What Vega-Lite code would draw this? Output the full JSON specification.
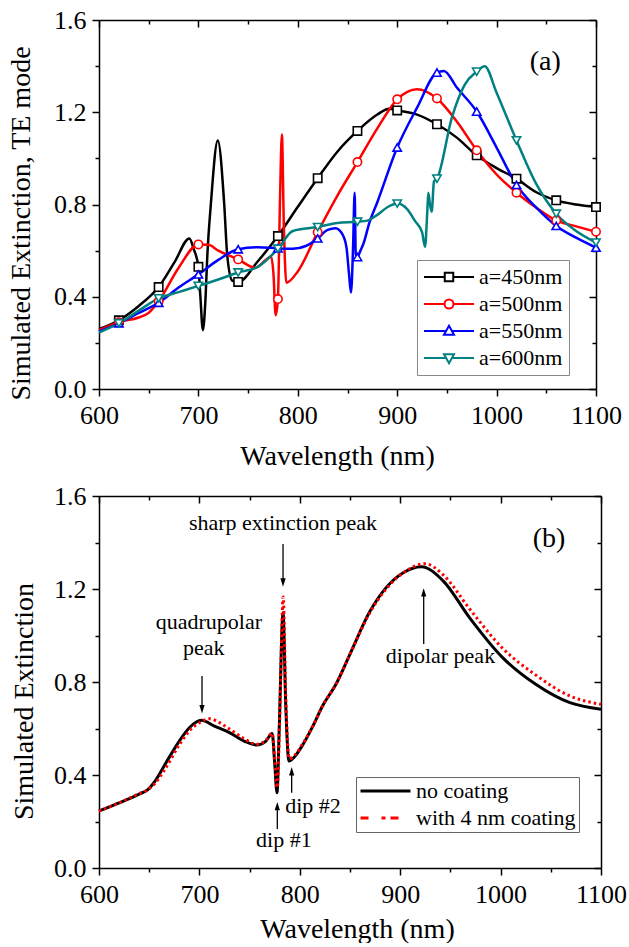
{
  "$schema": "https://vega.github.io/schema/vega-lite/v6.json",
  "padding": {"left": 7, "top": 7, "right": 5, "bottom": 0},
  "columns": 1,
  "align": "none",
  "spacing": 13,
  "background": "white",
  "config": {
    "font": "Liberation Serif",
    "view": {"stroke": null},
    "axis": {
      "labelFont": "Liberation Serif", "labelFontSize": 26, "labelColor": "black",
      "titleFont": "Liberation Serif", "titleFontSize": 28, "titleFontWeight": "normal", "titleColor": "black",
      "domainColor": "black", "domainWidth": 1.5, "tickColor": "black", "tickWidth": 1.5,
      "grid": false, "labelFlush": false, "labelOverlap": false, "labelPadding": 6
    },
    "legend": {"labelFont": "Liberation Serif", "labelColor": "black"}
  },
  "resolve": {
    "scale": {"color": "independent"},
    "legend": {"color": "independent"}
  },
  "concat": [
    {
      "width": 497,
      "height": 369,
      "data": {"values": [
        {"a": "a=450nm", "wl": 600, "ext": 0.26},
        {"a": "a=450nm", "wl": 620, "ext": 0.298},
        {"a": "a=450nm", "wl": 640, "ext": 0.36},
        {"a": "a=450nm", "wl": 660, "ext": 0.442},
        {"a": "a=450nm", "wl": 676, "ext": 0.55},
        {"a": "a=450nm", "wl": 691, "ext": 0.653},
        {"a": "a=450nm", "wl": 695, "ext": 0.61},
        {"a": "a=450nm", "wl": 700, "ext": 0.53},
        {"a": "a=450nm", "wl": 702, "ext": 0.4},
        {"a": "a=450nm", "wl": 704.5, "ext": 0.255},
        {"a": "a=450nm", "wl": 707, "ext": 0.38},
        {"a": "a=450nm", "wl": 709, "ext": 0.58},
        {"a": "a=450nm", "wl": 712.5, "ext": 0.8},
        {"a": "a=450nm", "wl": 719.5, "ext": 1.078},
        {"a": "a=450nm", "wl": 726, "ext": 0.8},
        {"a": "a=450nm", "wl": 729, "ext": 0.58},
        {"a": "a=450nm", "wl": 734, "ext": 0.47},
        {"a": "a=450nm", "wl": 740, "ext": 0.464},
        {"a": "a=450nm", "wl": 760, "ext": 0.555},
        {"a": "a=450nm", "wl": 780, "ext": 0.663},
        {"a": "a=450nm", "wl": 800, "ext": 0.79},
        {"a": "a=450nm", "wl": 820, "ext": 0.914},
        {"a": "a=450nm", "wl": 840, "ext": 1.03},
        {"a": "a=450nm", "wl": 860, "ext": 1.119},
        {"a": "a=450nm", "wl": 880, "ext": 1.19},
        {"a": "a=450nm", "wl": 892, "ext": 1.215},
        {"a": "a=450nm", "wl": 900, "ext": 1.208},
        {"a": "a=450nm", "wl": 920, "ext": 1.19},
        {"a": "a=450nm", "wl": 940, "ext": 1.148},
        {"a": "a=450nm", "wl": 960, "ext": 1.09},
        {"a": "a=450nm", "wl": 980, "ext": 1.013},
        {"a": "a=450nm", "wl": 1000, "ext": 0.958},
        {"a": "a=450nm", "wl": 1020, "ext": 0.912},
        {"a": "a=450nm", "wl": 1040, "ext": 0.853},
        {"a": "a=450nm", "wl": 1060, "ext": 0.818},
        {"a": "a=450nm", "wl": 1080, "ext": 0.8},
        {"a": "a=450nm", "wl": 1100, "ext": 0.789},

        {"a": "a=500nm", "wl": 600, "ext": 0.255},
        {"a": "a=500nm", "wl": 620, "ext": 0.29},
        {"a": "a=500nm", "wl": 640, "ext": 0.31},
        {"a": "a=500nm", "wl": 650, "ext": 0.33},
        {"a": "a=500nm", "wl": 660, "ext": 0.38},
        {"a": "a=500nm", "wl": 680, "ext": 0.525},
        {"a": "a=500nm", "wl": 700, "ext": 0.627},
        {"a": "a=500nm", "wl": 710, "ext": 0.625},
        {"a": "a=500nm", "wl": 720, "ext": 0.6},
        {"a": "a=500nm", "wl": 740, "ext": 0.562},
        {"a": "a=500nm", "wl": 757, "ext": 0.526},
        {"a": "a=500nm", "wl": 768, "ext": 0.56},
        {"a": "a=500nm", "wl": 773, "ext": 0.575},
        {"a": "a=500nm", "wl": 775.5, "ext": 0.5},
        {"a": "a=500nm", "wl": 777.7, "ext": 0.32},
        {"a": "a=500nm", "wl": 780, "ext": 0.39},
        {"a": "a=500nm", "wl": 782, "ext": 0.8},
        {"a": "a=500nm", "wl": 784, "ext": 1.104},
        {"a": "a=500nm", "wl": 786, "ext": 0.7},
        {"a": "a=500nm", "wl": 788.5, "ext": 0.461},
        {"a": "a=500nm", "wl": 800, "ext": 0.51},
        {"a": "a=500nm", "wl": 820, "ext": 0.68},
        {"a": "a=500nm", "wl": 840, "ext": 0.84},
        {"a": "a=500nm", "wl": 860, "ext": 0.984},
        {"a": "a=500nm", "wl": 880, "ext": 1.13},
        {"a": "a=500nm", "wl": 900, "ext": 1.256},
        {"a": "a=500nm", "wl": 920, "ext": 1.3},
        {"a": "a=500nm", "wl": 940, "ext": 1.26},
        {"a": "a=500nm", "wl": 960, "ext": 1.16},
        {"a": "a=500nm", "wl": 980, "ext": 1.035},
        {"a": "a=500nm", "wl": 1000, "ext": 0.93},
        {"a": "a=500nm", "wl": 1020, "ext": 0.851},
        {"a": "a=500nm", "wl": 1040, "ext": 0.786},
        {"a": "a=500nm", "wl": 1060, "ext": 0.731},
        {"a": "a=500nm", "wl": 1080, "ext": 0.705},
        {"a": "a=500nm", "wl": 1100, "ext": 0.682},

        {"a": "a=550nm", "wl": 600, "ext": 0.25},
        {"a": "a=550nm", "wl": 620, "ext": 0.285},
        {"a": "a=550nm", "wl": 640, "ext": 0.33},
        {"a": "a=550nm", "wl": 660, "ext": 0.374},
        {"a": "a=550nm", "wl": 680, "ext": 0.44},
        {"a": "a=550nm", "wl": 700, "ext": 0.497},
        {"a": "a=550nm", "wl": 720, "ext": 0.56},
        {"a": "a=550nm", "wl": 740, "ext": 0.606},
        {"a": "a=550nm", "wl": 760, "ext": 0.615},
        {"a": "a=550nm", "wl": 780, "ext": 0.61},
        {"a": "a=550nm", "wl": 795, "ext": 0.608},
        {"a": "a=550nm", "wl": 808, "ext": 0.62},
        {"a": "a=550nm", "wl": 820, "ext": 0.653},
        {"a": "a=550nm", "wl": 830, "ext": 0.69},
        {"a": "a=550nm", "wl": 838, "ext": 0.697},
        {"a": "a=550nm", "wl": 845, "ext": 0.67},
        {"a": "a=550nm", "wl": 849, "ext": 0.613},
        {"a": "a=550nm", "wl": 851.5, "ext": 0.5},
        {"a": "a=550nm", "wl": 853.5, "ext": 0.418},
        {"a": "a=550nm", "wl": 855.5, "ext": 0.6},
        {"a": "a=550nm", "wl": 857.2, "ext": 0.851},
        {"a": "a=550nm", "wl": 858.3, "ext": 0.584},
        {"a": "a=550nm", "wl": 860, "ext": 0.572},
        {"a": "a=550nm", "wl": 863, "ext": 0.6},
        {"a": "a=550nm", "wl": 866, "ext": 0.63},
        {"a": "a=550nm", "wl": 872, "ext": 0.72},
        {"a": "a=550nm", "wl": 880, "ext": 0.81},
        {"a": "a=550nm", "wl": 900, "ext": 1.047},
        {"a": "a=550nm", "wl": 920, "ext": 1.22},
        {"a": "a=550nm", "wl": 940, "ext": 1.372},
        {"a": "a=550nm", "wl": 947, "ext": 1.379},
        {"a": "a=550nm", "wl": 960, "ext": 1.307},
        {"a": "a=550nm", "wl": 980, "ext": 1.203},
        {"a": "a=550nm", "wl": 1000, "ext": 1.047},
        {"a": "a=550nm", "wl": 1020, "ext": 0.885},
        {"a": "a=550nm", "wl": 1040, "ext": 0.786},
        {"a": "a=550nm", "wl": 1060, "ext": 0.707},
        {"a": "a=550nm", "wl": 1080, "ext": 0.656},
        {"a": "a=550nm", "wl": 1100, "ext": 0.613},

        {"a": "a=600nm", "wl": 600, "ext": 0.245},
        {"a": "a=600nm", "wl": 620, "ext": 0.285},
        {"a": "a=600nm", "wl": 640, "ext": 0.34},
        {"a": "a=600nm", "wl": 660, "ext": 0.393},
        {"a": "a=600nm", "wl": 680, "ext": 0.42},
        {"a": "a=600nm", "wl": 700, "ext": 0.447},
        {"a": "a=600nm", "wl": 720, "ext": 0.475},
        {"a": "a=600nm", "wl": 740, "ext": 0.505},
        {"a": "a=600nm", "wl": 760, "ext": 0.53},
        {"a": "a=600nm", "wl": 776, "ext": 0.59},
        {"a": "a=600nm", "wl": 780, "ext": 0.608},
        {"a": "a=600nm", "wl": 795, "ext": 0.685},
        {"a": "a=600nm", "wl": 820, "ext": 0.702},
        {"a": "a=600nm", "wl": 840, "ext": 0.72},
        {"a": "a=600nm", "wl": 860, "ext": 0.725},
        {"a": "a=600nm", "wl": 870, "ext": 0.73},
        {"a": "a=600nm", "wl": 880, "ext": 0.755},
        {"a": "a=600nm", "wl": 890, "ext": 0.788},
        {"a": "a=600nm", "wl": 900, "ext": 0.804},
        {"a": "a=600nm", "wl": 910, "ext": 0.78},
        {"a": "a=600nm", "wl": 918, "ext": 0.728},
        {"a": "a=600nm", "wl": 925, "ext": 0.68},
        {"a": "a=600nm", "wl": 928, "ext": 0.617},
        {"a": "a=600nm", "wl": 930.3, "ext": 0.772},
        {"a": "a=600nm", "wl": 931.3, "ext": 0.851},
        {"a": "a=600nm", "wl": 933, "ext": 0.8},
        {"a": "a=600nm", "wl": 934.7, "ext": 0.769},
        {"a": "a=600nm", "wl": 937, "ext": 0.9},
        {"a": "a=600nm", "wl": 940, "ext": 0.912},
        {"a": "a=600nm", "wl": 955, "ext": 1.177},
        {"a": "a=600nm", "wl": 968, "ext": 1.32},
        {"a": "a=600nm", "wl": 980, "ext": 1.376},
        {"a": "a=600nm", "wl": 988, "ext": 1.4},
        {"a": "a=600nm", "wl": 1000, "ext": 1.285},
        {"a": "a=600nm", "wl": 1020, "ext": 1.078},
        {"a": "a=600nm", "wl": 1040, "ext": 0.888},
        {"a": "a=600nm", "wl": 1060, "ext": 0.76},
        {"a": "a=600nm", "wl": 1080, "ext": 0.685},
        {"a": "a=600nm", "wl": 1100, "ext": 0.635}
      ]},
      "layer": [
        {
          "mark": {"type": "line", "interpolate": "monotone", "strokeWidth": 2.5},
          "encoding": {
            "x": {"field": "wl", "type": "quantitative",
              "scale": {"domain": [600, 1100], "nice": false, "zero": false},
              "axis": {"orient": "bottom", "title": "Wavelength (nm)",
                "values": [600, 650, 700, 750, 800, 850, 900, 950, 1000, 1050, 1100],
                "labelExpr": "datum.value % 100 == 0 ? format(datum.value, 'd') : ''",
                "tickSize": {"condition": {"test": "datum.value % 100 == 0", "value": 7}, "value": 4},
                "titlePadding": 14, "titleX": 238}},
            "y": {"field": "ext", "type": "quantitative",
              "scale": {"domain": [0, 1.6], "nice": false},
              "axis": {"orient": "left", "title": "Simulated Extinction, TE mode",
                "values": [0, 0.2, 0.4, 0.6, 0.8, 1.0, 1.2, 1.4, 1.6],
                "labelExpr": "round(datum.value * 10) % 4 == 0 ? format(datum.value, '.1f') : ''",
                "tickSize": {"condition": {"test": "round(datum.value * 10) % 4 == 0", "value": 7}, "value": 4},
                "titlePadding": 18, "titleY": 203}},
            "color": {"field": "a", "type": "nominal",
              "scale": {"domain": ["a=450nm", "a=500nm", "a=550nm", "a=600nm"], "range": ["#000000", "#ff0000", "#0000ff", "#008080"]},
              "legend": {"title": null, "orient": "none", "legendX": 318, "legendY": 240,
                "symbolSize": 2500, "symbolStrokeWidth": 2, "clipHeight": 22, "rowPadding": 5,
                "labelFont": "Liberation Serif", "labelFontSize": 22, "labelOffset": 4, "padding": 6,
                "strokeColor": "#888888", "fillColor": "white",
                "encode": {"symbols": {"update": {
                  "shape": {"signal": "datum.value == 'a=450nm' ? 'M-1,0H-0.17M0.17,0H1M-0.17,-0.17H0.17V0.17H-0.17Z' : datum.value == 'a=500nm' ? 'M-1,0H-0.18M0.18,0H1M0.18,0A0.18,0.18,0,1,1,-0.18,0A0.18,0.18,0,1,1,0.18,0Z' : datum.value == 'a=550nm' ? 'M-1,0H-0.12M0.12,0H1M0,-0.21L0.2,0.15H-0.2Z' : 'M-1,0H-0.12M0.12,0H1M0,0.21L0.2,-0.15H-0.2Z'"},
                  "fill": {"value": "white"}
                }}}}
            }
          }
        },
        {
          "transform": [{"filter": "datum.a == 'a=450nm' && datum.wl % 40 == 20"}],
          "mark": {"type": "point", "shape": "square", "filled": false, "fill": "white", "fillOpacity": 1, "opacity": 1, "size": 70, "strokeWidth": 1.6},
          "encoding": {
            "x": {"field": "wl", "type": "quantitative",
              "scale": {"domain": [600, 1100], "nice": false, "zero": false},
              "axis": {"orient": "top", "title": null, "labels": false,
                "values": [600, 650, 700, 750, 800, 850, 900, 950, 1000, 1050, 1100],
                "tickSize": {"condition": {"test": "datum.value % 100 == 0", "value": -7}, "value": -4}}},
            "y": {"field": "ext", "type": "quantitative",
              "scale": {"domain": [0, 1.6], "nice": false},
              "axis": {"orient": "right", "title": null, "labels": false,
                "values": [0, 0.2, 0.4, 0.6, 0.8, 1.0, 1.2, 1.4, 1.6],
                "tickSize": {"condition": {"test": "round(datum.value * 10) % 4 == 0", "value": -7}, "value": -4}}},
            "color": {"field": "a", "type": "nominal", "legend": null}
          }
        },
        {
          "transform": [{"filter": "datum.a == 'a=500nm' && datum.wl % 40 == 20"}],
          "mark": {"type": "point", "shape": "circle", "filled": false, "fill": "white", "fillOpacity": 1, "opacity": 1, "size": 70, "strokeWidth": 1.6},
          "encoding": {
            "x": {"field": "wl", "type": "quantitative", "scale": {"domain": [600, 1100], "nice": false, "zero": false}, "axis": null},
            "y": {"field": "ext", "type": "quantitative", "scale": {"domain": [0, 1.6], "nice": false}, "axis": null},
            "color": {"field": "a", "type": "nominal", "legend": null}
          }
        },
        {
          "transform": [{"filter": "datum.a == 'a=550nm' && datum.wl % 40 == 20"}],
          "mark": {"type": "point", "shape": "triangle-up", "filled": false, "fill": "white", "fillOpacity": 1, "opacity": 1, "size": 70, "strokeWidth": 1.6},
          "encoding": {
            "x": {"field": "wl", "type": "quantitative", "scale": {"domain": [600, 1100], "nice": false, "zero": false}, "axis": null},
            "y": {"field": "ext", "type": "quantitative", "scale": {"domain": [0, 1.6], "nice": false}, "axis": null},
            "color": {"field": "a", "type": "nominal", "legend": null}
          }
        },
        {
          "transform": [{"filter": "datum.a == 'a=600nm' && datum.wl % 40 == 20"}],
          "mark": {"type": "point", "shape": "triangle-down", "filled": false, "fill": "white", "fillOpacity": 1, "opacity": 1, "size": 70, "strokeWidth": 1.6},
          "encoding": {
            "x": {"field": "wl", "type": "quantitative", "scale": {"domain": [600, 1100], "nice": false, "zero": false}, "axis": null},
            "y": {"field": "ext", "type": "quantitative", "scale": {"domain": [0, 1.6], "nice": false}, "axis": null},
            "color": {"field": "a", "type": "nominal", "legend": null}
          }
        },
        {
          "data": {"values": [{"x": 1049, "y": 1.42, "label": "(a)"}]},
          "mark": {"type": "text", "font": "Liberation Serif", "fontSize": 28, "align": "center", "baseline": "middle", "color": "black"},
          "encoding": {
            "x": {"field": "x", "type": "quantitative", "scale": {"domain": [600, 1100], "nice": false, "zero": false}, "axis": null},
            "y": {"field": "y", "type": "quantitative", "scale": {"domain": [0, 1.6], "nice": false}, "axis": null},
            "text": {"field": "label"}
          }
        }
      ],
      "resolve": {"axis": {"x": "independent", "y": "independent"}}
    },
    {
      "width": 502,
      "height": 372,
      "data": {"values": [
        {"case": "no coating", "wl": 600, "ext": 0.245},
        {"case": "no coating", "wl": 620, "ext": 0.28},
        {"case": "no coating", "wl": 640, "ext": 0.318},
        {"case": "no coating", "wl": 648, "ext": 0.335},
        {"case": "no coating", "wl": 656, "ext": 0.375},
        {"case": "no coating", "wl": 665, "ext": 0.44},
        {"case": "no coating", "wl": 680, "ext": 0.546},
        {"case": "no coating", "wl": 690, "ext": 0.603},
        {"case": "no coating", "wl": 702, "ext": 0.635},
        {"case": "no coating", "wl": 715, "ext": 0.61},
        {"case": "no coating", "wl": 730, "ext": 0.582},
        {"case": "no coating", "wl": 745, "ext": 0.545},
        {"case": "no coating", "wl": 757, "ext": 0.529},
        {"case": "no coating", "wl": 766, "ext": 0.545},
        {"case": "no coating", "wl": 772.5, "ext": 0.578},
        {"case": "no coating", "wl": 775, "ext": 0.45},
        {"case": "no coating", "wl": 777.3, "ext": 0.324},
        {"case": "no coating", "wl": 779.5, "ext": 0.6},
        {"case": "no coating", "wl": 783.3, "ext": 1.098},
        {"case": "no coating", "wl": 786, "ext": 0.7},
        {"case": "no coating", "wl": 789.2, "ext": 0.46},
        {"case": "no coating", "wl": 795, "ext": 0.48},
        {"case": "no coating", "wl": 803, "ext": 0.53},
        {"case": "no coating", "wl": 813, "ext": 0.61},
        {"case": "no coating", "wl": 823, "ext": 0.7},
        {"case": "no coating", "wl": 836, "ext": 0.79},
        {"case": "no coating", "wl": 850, "ext": 0.92},
        {"case": "no coating", "wl": 870, "ext": 1.105},
        {"case": "no coating", "wl": 886, "ext": 1.206},
        {"case": "no coating", "wl": 903, "ext": 1.27},
        {"case": "no coating", "wl": 921, "ext": 1.296},
        {"case": "no coating", "wl": 943, "ext": 1.234},
        {"case": "no coating", "wl": 969, "ext": 1.077},
        {"case": "no coating", "wl": 1002, "ext": 0.905},
        {"case": "no coating", "wl": 1035, "ext": 0.79},
        {"case": "no coating", "wl": 1069, "ext": 0.711},
        {"case": "no coating", "wl": 1100, "ext": 0.683},

        {"case": "with 4 nm coating", "wl": 600, "ext": 0.245},
        {"case": "with 4 nm coating", "wl": 620, "ext": 0.28},
        {"case": "with 4 nm coating", "wl": 640, "ext": 0.32},
        {"case": "with 4 nm coating", "wl": 648, "ext": 0.335},
        {"case": "with 4 nm coating", "wl": 656, "ext": 0.365},
        {"case": "with 4 nm coating", "wl": 665, "ext": 0.42},
        {"case": "with 4 nm coating", "wl": 680, "ext": 0.53},
        {"case": "with 4 nm coating", "wl": 690, "ext": 0.59},
        {"case": "with 4 nm coating", "wl": 700, "ext": 0.625},
        {"case": "with 4 nm coating", "wl": 710, "ext": 0.642},
        {"case": "with 4 nm coating", "wl": 720, "ext": 0.625},
        {"case": "with 4 nm coating", "wl": 730, "ext": 0.598},
        {"case": "with 4 nm coating", "wl": 745, "ext": 0.555},
        {"case": "with 4 nm coating", "wl": 757, "ext": 0.532},
        {"case": "with 4 nm coating", "wl": 766, "ext": 0.548},
        {"case": "with 4 nm coating", "wl": 772.5, "ext": 0.58},
        {"case": "with 4 nm coating", "wl": 775, "ext": 0.47},
        {"case": "with 4 nm coating", "wl": 777.5, "ext": 0.345},
        {"case": "with 4 nm coating", "wl": 780, "ext": 0.65},
        {"case": "with 4 nm coating", "wl": 783.5, "ext": 1.166},
        {"case": "with 4 nm coating", "wl": 786, "ext": 0.74},
        {"case": "with 4 nm coating", "wl": 789.5, "ext": 0.47},
        {"case": "with 4 nm coating", "wl": 795, "ext": 0.485},
        {"case": "with 4 nm coating", "wl": 803, "ext": 0.535},
        {"case": "with 4 nm coating", "wl": 813, "ext": 0.61},
        {"case": "with 4 nm coating", "wl": 823, "ext": 0.7},
        {"case": "with 4 nm coating", "wl": 836, "ext": 0.79},
        {"case": "with 4 nm coating", "wl": 850, "ext": 0.92},
        {"case": "with 4 nm coating", "wl": 870, "ext": 1.1},
        {"case": "with 4 nm coating", "wl": 886, "ext": 1.2},
        {"case": "with 4 nm coating", "wl": 903, "ext": 1.27},
        {"case": "with 4 nm coating", "wl": 925, "ext": 1.309},
        {"case": "with 4 nm coating", "wl": 943, "ext": 1.26},
        {"case": "with 4 nm coating", "wl": 969, "ext": 1.115},
        {"case": "with 4 nm coating", "wl": 1002, "ext": 0.945},
        {"case": "with 4 nm coating", "wl": 1035, "ext": 0.83},
        {"case": "with 4 nm coating", "wl": 1069, "ext": 0.74},
        {"case": "with 4 nm coating", "wl": 1100, "ext": 0.704}
      ]},
      "layer": [
        {
          "transform": [{"filter": "datum.case == 'no coating'"}],
          "mark": {"type": "line", "interpolate": "monotone", "strokeWidth": 3},
          "encoding": {
            "x": {"field": "wl", "type": "quantitative",
              "scale": {"domain": [600, 1100], "nice": false, "zero": false},
              "axis": {"orient": "bottom", "title": "Wavelength (nm)",
                "values": [600, 650, 700, 750, 800, 850, 900, 950, 1000, 1050, 1100],
                "labelExpr": "datum.value % 100 == 0 ? format(datum.value, 'd') : ''",
                "tickSize": {"condition": {"test": "datum.value % 100 == 0", "value": 7}, "value": 4},
                "titlePadding": 8, "titleX": 258}},
            "y": {"field": "ext", "type": "quantitative",
              "scale": {"domain": [0, 1.6], "nice": false},
              "axis": {"orient": "left", "title": "Simulated Extinction",
                "values": [0, 0.2, 0.4, 0.6, 0.8, 1.0, 1.2, 1.4, 1.6],
                "labelExpr": "round(datum.value * 10) % 4 == 0 ? format(datum.value, '.1f') : ''",
                "tickSize": {"condition": {"test": "round(datum.value * 10) % 4 == 0", "value": 7}, "value": 4},
                "titlePadding": 15, "titleY": 205}},
            "color": {"field": "case", "type": "nominal",
              "scale": {"domain": ["no coating", "with 4 nm coating"], "range": ["#000000", "#ff0000"]},
              "legend": {"title": null, "orient": "none", "legendX": 257, "legendY": 281,
                "symbolSize": 2500, "symbolStrokeWidth": 3, "clipHeight": 22, "rowPadding": 5,
                "labelFont": "Liberation Serif", "labelFontSize": 22, "labelOffset": 4, "padding": 3,
                "strokeColor": "#666666", "fillColor": "white",
                "encode": {"symbols": {"update": {
                  "strokeDash": {"signal": "datum.value == 'with 4 nm coating' ? [8, 13, 4, 5] : [1, 0]"}
                }}}}}
          }
        },
        {
          "transform": [{"filter": "datum.case == 'with 4 nm coating'"}],
          "mark": {"type": "line", "interpolate": "monotone", "strokeWidth": 3, "strokeDash": [2.5, 3]},
          "encoding": {
            "x": {"field": "wl", "type": "quantitative", "scale": {"domain": [600, 1100], "nice": false, "zero": false}, "axis": null},
            "y": {"field": "ext", "type": "quantitative", "scale": {"domain": [0, 1.6], "nice": false}, "axis": null},
            "color": {"field": "case", "type": "nominal", "legend": null}
          }
        },
        {
          "data": {"values": [
            {"x": 783.3, "y": 1.485, "label": "sharp extinction peak"},
            {"x": 709.4, "y": 1.059, "label": "quadrupolar"},
            {"x": 704.4, "y": 0.948, "label": "peak"},
            {"x": 940.1, "y": 0.912, "label": "dipolar peak"},
            {"x": 784.1, "y": 0.119, "label": "dip #1"},
            {"x": 813.1, "y": 0.267, "label": "dip #2"}
          ]},
          "mark": {"type": "text", "font": "Liberation Serif", "fontSize": 22, "align": "center", "baseline": "middle", "color": "black"},
          "encoding": {
            "x": {"field": "x", "type": "quantitative",
              "scale": {"domain": [600, 1100], "nice": false, "zero": false},
              "axis": {"orient": "top", "title": null, "labels": false,
                "values": [600, 650, 700, 750, 800, 850, 900, 950, 1000, 1050, 1100],
                "tickSize": {"condition": {"test": "datum.value % 100 == 0", "value": -7}, "value": -4}}},
            "y": {"field": "y", "type": "quantitative",
              "scale": {"domain": [0, 1.6], "nice": false},
              "axis": {"orient": "right", "title": null, "labels": false,
                "values": [0, 0.2, 0.4, 0.6, 0.8, 1.0, 1.2, 1.4, 1.6],
                "tickSize": {"condition": {"test": "round(datum.value * 10) % 4 == 0", "value": -7}, "value": -4}}},
            "text": {"field": "label"}
          }
        },
        {
          "data": {"values": [{"x": 1048.2, "y": 1.414, "label": "(b)"}]},
          "mark": {"type": "text", "font": "Liberation Serif", "fontSize": 28, "align": "center", "baseline": "middle", "color": "black"},
          "encoding": {
            "x": {"field": "x", "type": "quantitative", "scale": {"domain": [600, 1100], "nice": false, "zero": false}, "axis": null},
            "y": {"field": "y", "type": "quantitative", "scale": {"domain": [0, 1.6], "nice": false}, "axis": null},
            "text": {"field": "label"}
          }
        },
        {
          "data": {"values": [
            {"x": 783.3, "from": 1.394, "to": 1.23, "dir": "down"},
            {"x": 702.6, "from": 0.826, "to": 0.685, "dir": "down"},
            {"x": 923.4, "from": 0.963, "to": 1.183, "dir": "up"},
            {"x": 777.6, "from": 0.168, "to": 0.264, "dir": "up"},
            {"x": 791.9, "from": 0.324, "to": 0.414, "dir": "up"}
          ]},
          "mark": {"type": "rule", "color": "black", "strokeWidth": 1.3},
          "encoding": {
            "x": {"field": "x", "type": "quantitative", "scale": {"domain": [600, 1100], "nice": false, "zero": false}, "axis": null},
            "y": {"field": "from", "type": "quantitative", "scale": {"domain": [0, 1.6], "nice": false}, "axis": null},
            "y2": {"field": "to"}
          }
        },
        {
          "data": {"values": [
            {"x": 783.3, "to": 1.23, "dir": "down"},
            {"x": 702.6, "to": 0.685, "dir": "down"},
            {"x": 923.4, "to": 1.183, "dir": "up"},
            {"x": 777.6, "to": 0.264, "dir": "up"},
            {"x": 791.9, "to": 0.414, "dir": "up"}
          ]},
          "mark": {"type": "point", "filled": true, "color": "black", "size": 110, "opacity": 1},
          "encoding": {
            "x": {"field": "x", "type": "quantitative", "scale": {"domain": [600, 1100], "nice": false, "zero": false}, "axis": null},
            "y": {"field": "to", "type": "quantitative", "scale": {"domain": [0, 1.6], "nice": false}, "axis": null},
            "shape": {"field": "dir", "type": "nominal",
              "scale": {"domain": ["down", "up"], "range": ["M-0.5,-0.7L0.5,-0.7L0,0.9Z", "M-0.5,0.7L0.5,0.7L0,-0.9Z"]},
              "legend": null}
          }
        }
      ],
      "resolve": {"axis": {"x": "independent", "y": "independent"}}
    }
  ]
}
